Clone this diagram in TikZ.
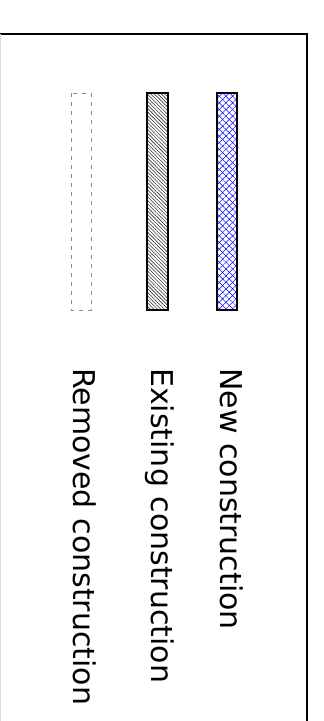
\documentclass[tikz,border=0pt]{standalone}
\usepackage{fontspec}
\setmainfont{DejaVu Sans}
\usetikzlibrary{patterns.meta}
\begin{document}
\begin{tikzpicture}[x=1pt,y=-1pt,
  barbox/.style={line width=1.8pt,draw=black},
  removedbox/.style={draw=black!45,line width=0.8pt,dash pattern=on 4pt off 5pt},
  lbl/.style={rotate=-90,anchor=base west,inner sep=0pt,font=\fontsize{30}{36}\selectfont}]
\useasboundingbox (0,0) rectangle (324,721);
\begin{scope}
\clip (0,0) rectangle (324,721);
\draw[line width=1.3pt] (0,34) -- (307,34) -- (307,740);
\draw[black!15,line width=1pt] (0.8,34) -- (0.8,740);
\end{scope}
% New construction
\fill[white] (217,93) rectangle (237,310);
\fill[pattern={Lines[angle=45,distance=4.7pt,line width=0.5pt]},pattern color=blue] (217,93) rectangle (237,310);
\fill[pattern={Lines[angle=-45,distance=4.7pt,line width=0.5pt]},pattern color=blue] (217,93) rectangle (237,310);
\draw[barbox] (217,93) rectangle (237,310);
% Existing construction
\fill[pattern={Lines[angle=-45,distance=2.5pt,line width=0.6pt]},pattern color=black!80] (147,93) rectangle (168,310);
\draw[barbox] (147,93) rectangle (168,310);
% Removed construction
\draw[removedbox] (71,93) rectangle (91,310);
\node[lbl] (new) at (220,368) {New construction};
\node[lbl] (exist) at (151,368) {Existing construction};
\node[lbl] (rem) at (73,368) {Removed construction};
\end{tikzpicture}
\end{document}
